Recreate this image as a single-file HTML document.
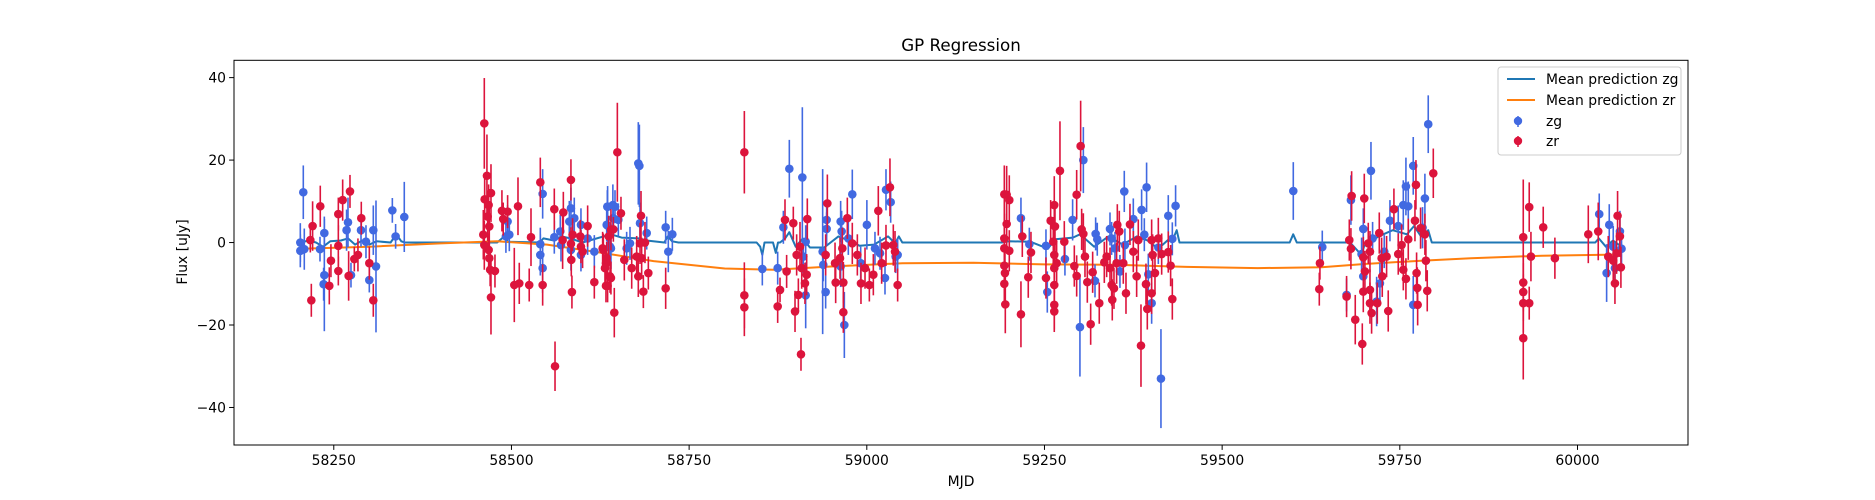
<!DOCTYPE html>
<html><head><meta charset="utf-8">
<style>
html,body{margin:0;padding:0;background:#fff;}
svg{display:block;font-family:"DejaVu Sans","Liberation Sans",sans-serif;}
</style></head>
<body>
<svg id="chart" width="1875" height="500" viewBox="0 0 1875 500" xmlns="http://www.w3.org/2000/svg">
<rect width="1875" height="500" fill="#fff"/>
<text x="961" y="51" font-size="16.7" text-anchor="middle" fill="#000">GP Regression</text>
<g id="plot"></g>
<g id="axes"></g>
<text x="961" y="486" font-size="13.9" text-anchor="middle">MJD</text>
<text transform="translate(187,252) rotate(-90)" font-size="13.9" text-anchor="middle">Flux [uJy]</text>
<g>
<rect x="1498" y="67" width="183" height="88" rx="3" fill="#fff" fill-opacity="0.8" stroke="#ccc" stroke-width="1"/>
<line x1="1507" y1="79" x2="1535" y2="79" stroke="#1f77b4" stroke-width="2"/>
<text x="1546" y="84" font-size="13.9">Mean prediction zg</text>
<line x1="1507" y1="100" x2="1535" y2="100" stroke="#ff7f0e" stroke-width="2"/>
<text x="1546" y="105" font-size="13.9">Mean prediction zr</text>
<line x1="1518" y1="116" x2="1518" y2="127" stroke="#4169e1" stroke-width="1.5"/>
<circle cx="1518" cy="121" r="4.2" fill="#4169e1"/>
<text x="1546" y="126" font-size="13.9">zg</text>
<line x1="1518" y1="136" x2="1518" y2="147" stroke="#dc143c" stroke-width="1.5"/>
<circle cx="1518" cy="141" r="4.2" fill="#dc143c"/>
<text x="1546" y="146" font-size="13.9">zr</text>
</g>
</svg>
<script>
const xTicks=[58250,58500,58750,59000,59250,59500,59750,60000];
const yTicks=[40,20,0,-20,-40];
const gMjd=[58202.9,58202.9,58207.1,58208.5,58230.6,58236.7,58236.7,58235.7,58270,58268,58288.3,58274.2,58295.3,58305.6,58300,58309.4,58332.4,58337,58349.2,
58494.6,58492.2,58497,58543.9,58540.6,58540.6,58543.9,58560.3,58568.7,58569.7,58583.7,58588.4,58581.4,58583.7,58597.8,58607.2,58597.8,58616.6,58635.3,58642.7,58635.3,58640,
58678.5,58680,58634.9,58645.7,58634,58650.4,58643.4,58638.7,58662.1,58666.8,58680.9,58690.3,58717,58726.4,58720.7,
58853,58874.6,58891,58909.3,58882.6,58914,58910.7,58914,58937.9,58942.1,58943.5,58943.5,58938.8,58963.2,58964.6,58979.6,58968.4,58974,58963.2,59000.1,58991.4,59011.5,59018.6,59027,59033.6,59025.6,59040.6,59043.4,
59216.9,59228.7,59252.1,59254,59289.6,59278.8,59299.9,59304.7,59322,59324.3,59321.1,59342.2,59344.5,59349.2,59356.2,59362.3,59375,59386.7,59393.7,59390.5,59363.2,59400.8,59396.1,59413.9,59424.2,59434.5,59429.9,59410.2,
59600.1,59640.9,59675.1,59681.2,59698.6,59709.4,59696.2,59698.6,59711.7,59717.4,59722,59728.1,59736.1,59747.8,59754.9,59758.6,59761.9,59768.9,59768.9,59785.3,59782,59790,
60030.6,60044.7,60050.3,60041,60059.7,60062,60052.7];
const gFlux=[0,-2,12.2,-1.6,-1.6,2.3,-7.9,-10.1,4.9,3,3,-7.9,0.2,3,-9.1,-5.8,7.8,1.5,6.2,
5.1,1.5,1.9,11.8,-0.4,-3,-6.2,1.3,2.7,-0.6,8.3,5.9,5.1,-1.8,4.3,1,-3,-2.2,8.7,9.1,4.1,-1.4,
19.2,18.6,8.7,8.7,4.3,5.5,5.9,-1,-1.4,-0.2,4.7,2.3,3.7,2,-2.2,
-6.4,-6.2,17.9,15.8,3.7,0.2,-3.4,-12.8,-2.2,-12,5.5,3.3,-5.4,5.1,2.7,11.7,-20,1,-5.8,4.3,-5,-1.4,-2.6,12.8,9.8,-8.6,-3.4,-3,
5.9,-0.4,-0.8,-12,5.5,-4,-20.5,20,2.1,0.8,-9.3,3.3,1,-1.4,-7,12.4,5.7,7.9,13.4,1.9,-0.6,-14.7,-7.7,-33,6.5,8.9,0.9,-1.2,
12.5,-1.1,-12.7,10.3,3.3,17.4,-2.8,-8.2,1,-14.3,-9.9,-2.2,5.3,4,9.1,13.6,8.8,18.6,-15.1,10.7,3.6,28.7,
6.9,4.3,-1,-7.4,2.7,-1.5,-6.2];
const gErr=[4.7,4,6.5,5,3,4,13.6,4,6,5,4,3,4,6,3,16,3,3,8.5,
4,4,4,6,4,5,6,4,4,4,5,5,5,5,4,4,4,4,5,5,5,5,
10,10,4,4,4,4,4,4,4,4,5,4,4,4,5,
4,4,7,17,4,4,4,8,20,4,4,4,4,5,5,6,8,4,5,6,4,4,4,5,5,4,4,4,
5,4,4,5,5,4,12,8,4,4,4,4,4,4,4,5,5,5,6,4,4,5,5,12,5,5,4,4,
7,4,4,6,5,7,4,4,4,6,5,4,5,5,6,7,6,7,7,6,5,7,
5,5,5,7,5,4,5];
const rMjd=[58217,58220.2,58218.4,58231,58243.7,58246,58256.4,58262.5,58256.4,58256.4,58272.8,58270.9,58288.7,58278.9,58284,58300,58305.6,
58461.8,58462.3,58465.5,58466.5,58460.4,58461.8,58468.8,58467.9,58468.8,58467.9,58471.2,58471.2,58476.8,58470,58486.6,58494.6,58488.4,58509.2,58504,58511,58527.5,58525,58540.6,58543.9,58560.3,58561.3,58572,58583.7,58584.2,58585.1,58573,58583.7,58586,58596.9,58597.8,58600.1,58607.2,58616.6,58628.3,58633,58635.3,58636.8,58640,58640,58644.7,
58649,58654.1,58643.4,58629.3,58634,58631.6,58638.7,58633,58658.8,58669.2,58682.3,58680.9,58687.9,58676.2,58683.2,58678.5,58685.6,58692.6,58717,
58827.7,58827.7,58827.7,58884.9,58896.6,58916.3,58877.9,58874.6,58887.2,58899,58903.7,58906,58901.3,58908.4,58913,58915.4,58907.4,58944.5,58942.1,58955.3,58956.2,58962.3,58967,58965.6,58967,58972.6,58979.6,58986.7,58991.8,58997.5,59003.6,59009.2,59016.2,59020.9,59027,59032.6,59037.3,59039.7,59043.4,
59193.5,59196.8,59200.5,59196.8,59193.5,59193.5,59200.5,59193.5,59194.4,59193.5,59194.9,59218.8,59216.9,59231,59227.2,59252.1,59258.7,59263.8,59264.8,59262.4,59263.8,59263.8,59263.8,59263.8,59263.8,59267.1,59271.8,59277.9,59292,59295.3,59300.9,59295.3,59302.3,59304.7,59307,59310.3,59315,59317.8,59327.1,59334.2,59337.5,59342.2,59344.5,59345.4,59347.8,59352.5,59355.3,59351.5,59360.9,59364.7,59370.3,59375,59379.7,59382,59385.8,59392.8,59394.7,59400.8,59402.2,59400.8,59405.5,59410.2,59414.9,59424.2,59427.5,59429.9,
59637.6,59636.7,59682.2,59678.9,59681.2,59675.1,59687.3,59697.2,59700,59698.6,59698.6,59705.6,59708,59700.9,59708,59708,59710.3,59718.3,59721.1,59724.4,59725.3,59731.4,59733.7,59741.7,59747.8,59752.5,59754.9,59758.6,59761.9,59771.3,59772.7,59773.6,59774.6,59775.1,59779.2,59785.3,59788.6,59786.7,59797.1,
59923.7,59923.7,59923.7,59923.7,59923.7,59932.1,59932.1,59934.5,59951.8,59968.2,60015.2,60029.2,60043.3,60050.3,60052.7,60056.4,60059.7,60055,60061.1];
const rFlux=[0.6,4,-14,8.8,-10.5,-4.4,6.9,10.3,-0.8,-6.9,12.4,-8.1,5.9,-4,-3,-5,-14,
28.9,10.5,16.2,6.3,1.9,-0.6,3.9,-1.8,-3.8,9.1,12,-13.3,-6.9,-6.6,7.7,7.5,5.7,8.8,-10.3,-9.9,1.3,-10.3,14.6,-10.3,8.1,-30,0.6,15.2,-4.2,-12,7.3,-0.3,1.9,1.5,-1,-2.2,4,-9.6,-1.4,-5,-10.5,1.5,3.1,-8.6,-17,
21.9,7.1,3.2,-1.8,-3.8,-6.2,-8.2,-10.5,-4.2,-6.2,6.5,-0.2,0,-3.4,-3.8,-8.2,-11.9,-7.4,-11.1,
21.9,-12.8,-15.7,5.5,4.7,5.7,-11.5,-15.5,-7,-16.7,-12.7,-1,-3,-6.2,-9.9,-7.8,-27.1,9.5,-3,-5,-9.7,-3.8,-9.7,-1.4,-16.9,5.9,-0.2,-3,-9.9,-6.2,-10.3,-7.8,7.7,-5,-0.7,13.4,-0.6,-2.2,-10.3,
11.7,11.6,10.3,4.5,1,-1.4,-2,-5.6,-7.4,-10,-15,1.5,-17.4,-2.4,-8.4,-8.6,5.3,9.1,3.9,0.2,-3,-6.2,-10.3,-15.1,-16.7,-5,17.4,0.2,-5.7,-8.1,23.4,11.6,3.2,2.1,-3.4,-9.6,-19.8,-7.2,-14.7,-4.8,-3.4,-6.2,-10.3,-13.9,-11.1,4.3,2.7,-5,-5,-12.3,4.4,-2.2,-8.2,0.6,-25,-10.1,-16.1,0.6,-3,-12.3,-7.4,1,-2.8,-2.3,-5.6,-13.7,
-5,-11.3,11.3,0.6,-1.5,-13.1,-18.7,-24.6,10.7,-3.6,-11.9,-0.2,-2.2,-7,-11.5,-14.7,-17.1,-14.7,2.3,-3.8,-8.2,-3.4,-16.6,8.1,-2.8,-0.6,-6.6,-8.8,0.8,5.3,14,-7.4,-11,-15.1,3.5,2,-11.7,-4.4,16.8,
1.3,-9.7,-12,-14.7,-23.2,8.6,-14.7,-3.4,3.7,-3.8,2,2.7,-3.4,-4.4,-9.9,6.5,1.5,-2.6,-6];
const rErr=[3,6,4,5,4.5,4,4,5,5,3.5,4,6,4,3,4,4,4,
11,5,10,6,6,6,6,4,4,5,7,9,4,4,5,4,4,7,9,5,7,4,6,5,5,6,7,5,4,4,5,4,4,4,4,4,5,4,4,4,4,5,5,4,6,
12,4,3,4,4,4,4,4,5,5,6,5,5,5,5,5,4,4,5,
10,8,7,5,4,5,3,4,4,5,4,6,5,5,5,5,4,7,5,5,5,5,5,5,5,5,5,5,5,5,4,5,6,5,5,7,5,5,4,
7,7,6,6,6,6,5,6,6,6,7,5,8,5,5,5,5,7,6,6,6,6,6,6,5,5,12,5,5,5,11,6,5,5,5,5,5,5,5,5,5,5,5,5,5,5,5,5,5,5,5,5,5,5,10,5,5,5,5,5,5,5,5,5,5,5,
4,4,6,5,5,5,6,5,6,5,5,5,5,5,5,5,5,5,5,5,5,5,5,5,5,5,5,5,5,5,6,5,5,5,5,5,5,5,6,
14,7,7,7,10,6,4,6,5,5,7,7,5,5,5,6,5,5,5];
const gpGx=[58203,58215,58225,58235,58245,58260,58270,58280,58290,58300,58310,58330,58338,58345,58350,58460,58480,58490,58495,58540,58545,58560,58570,58583,58600,58640,58655,58680,58690,58715,58720,58726,58735,58845,58850,58853,58856,58868,58872,58875,58878,58885,58891,58900,58910,58920,58940,58960,58975,58990,59010,59030,59040,59045,59050,59190,59200,59230,59255,59265,59290,59300,59320,59340,59360,59380,59395,59410,59425,59432,59436,59440,59595,59600,59605,59640,59680,59696,59700,59720,59740,59760,59770,59780,59790,59795,60025,60030,60040,60050,60062];
const gpGy=[0,0.5,0,-1,0.3,0.5,1,-0.5,0.5,-0.5,0.3,0,2,0.3,0,0,0,1.5,0.2,0,1,0.5,1.5,1,0,2,1.2,1,0.5,0,1.5,0.3,0,0,-1,-3,0,0,-2.5,0,0,1,2.5,-1,1,-1.2,-1.2,1.5,0.5,-0.8,-0.5,1.5,-0.2,1.5,0,0,0.3,0.2,-1.5,0.8,1.2,2,-1,1.5,-0.5,1.5,0.5,-1.5,0.8,1.3,3,0,0,2,0,0,0,-3,-0.8,1.5,3,2,4,1.5,3,0,0,1,-1,0.5,-1];
const gpRx=[58203,58300,58400,58480,58550,58620,58700,58800,58870,58950,59050,59150,59250,59350,59450,59550,59640,59700,59780,59850,59950,60062];
const gpRy=[-1.5,-1,-0.2,0.3,-0.5,-2.3,-4.5,-6.3,-6.6,-5.8,-5,-4.9,-5.3,-5.4,-5.9,-6.2,-6,-5.2,-4.4,-3.8,-3.2,-2.9];

const L=234,R=1688,T=60.3,B=445;
const xMin=58109.6,xMax=60155.5,yMin=-49.1,yMax=44.2;
const NS='http://www.w3.org/2000/svg';
function sx(v){return L+(v-xMin)/(xMax-xMin)*(R-L);}
function sy(v){return B-(v-yMin)/(yMax-yMin)*(B-T);}
function mk(tag,attrs,parent){const e=document.createElementNS(NS,tag);for(const k in attrs)e.setAttribute(k,attrs[k]);parent.appendChild(e);return e;}
const plot=document.getElementById('plot');
const axes=document.getElementById('axes');
function line(xs,ys,color,name){
  let d='';for(let i=0;i<xs.length;i++)d+=(i?'L':'M')+sx(xs[i]).toFixed(1)+','+sy(ys[i]).toFixed(1);
  const p=mk('path',{d:d,fill:'none',stroke:color,'stroke-width':2,'stroke-linejoin':'round'},plot);
  
  
}
line(gpGx,gpGy,'#1f77b4','mean-prediction-zg');
line(gpRx,gpRy,'#ff7f0e','mean-prediction-zr');
function pts(xs,ys,es,color,name){
  const g=mk('g',{},plot);
  
  
  for(let i=0;i<xs.length;i++){
    const x=sx(xs[i]),e=es[i]||5;
    const l=mk('line',{x1:x,x2:x,y1:sy(ys[i]-e),y2:sy(ys[i]+e),stroke:color,'stroke-width':1.6},g);
    
    
    const c=mk('circle',{cx:x,cy:sy(ys[i]),r:4.3,fill:color},g);
    
    
  }
}
pts(gMjd,gFlux,gErr,'#4169e1','zg-series');
pts(rMjd,rFlux,rErr,'#dc143c','zr-series');
mk('rect',{x:L,y:T,width:R-L,height:B-T,fill:'none',stroke:'#000','stroke-width':1},axes);
xTicks.forEach(v=>{
  const x=sx(v);
  mk('line',{x1:x,x2:x,y1:B,y2:B+4.9,stroke:'#000','stroke-width':1},axes);
  const t=mk('text',{x:x,y:B+20,'font-size':13.9,'text-anchor':'middle'},axes);
  t.textContent=String(v);
  
  
});
yTicks.forEach(v=>{
  const y=sy(v);
  mk('line',{x1:L-4.9,x2:L,y1:y,y2:y,stroke:'#000','stroke-width':1},axes);
  const t=mk('text',{x:L-8,y:y+5,'font-size':13.9,'text-anchor':'end'},axes);
  t.textContent=(v<0?'\u2212'+(-v):String(v));
  
  
});
</script>
</body></html>
